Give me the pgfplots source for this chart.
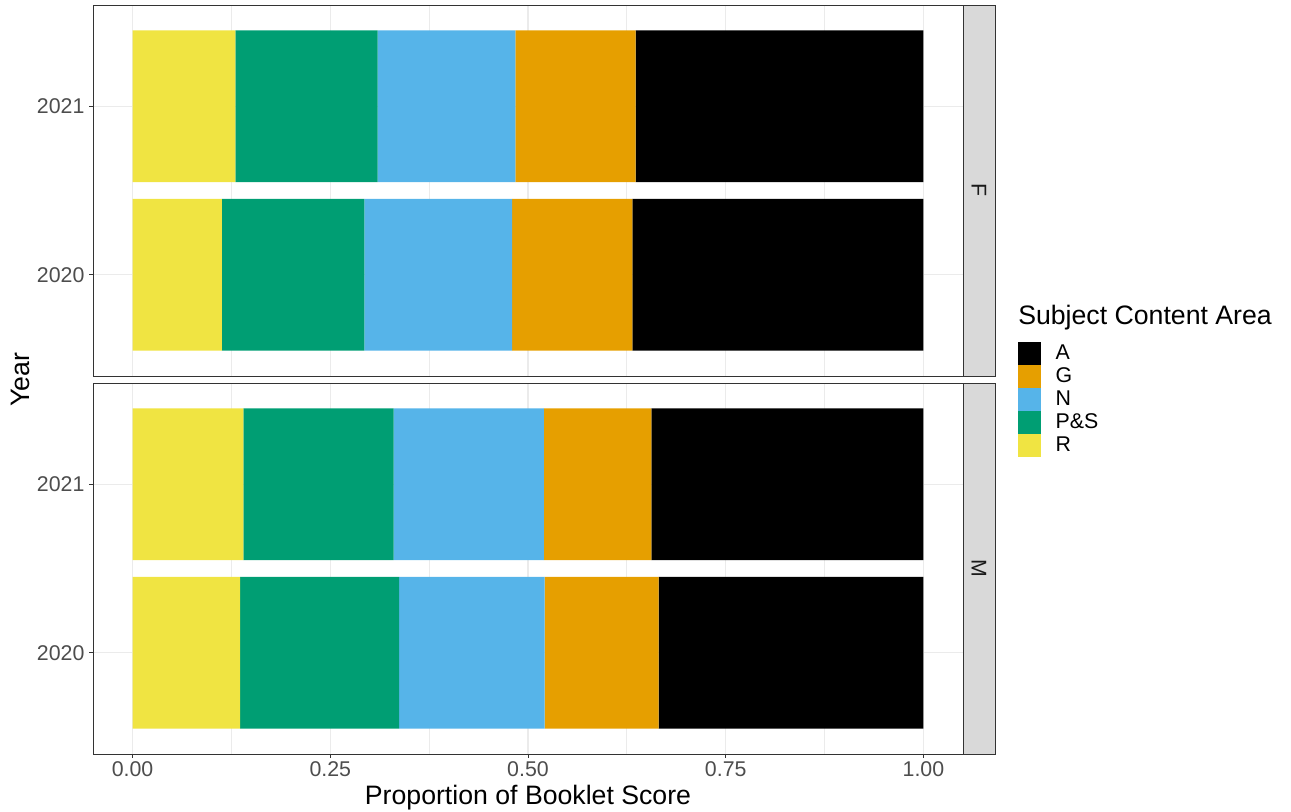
\documentclass[border=0pt]{standalone}
\usepackage{pgfplots}
\pgfplotsset{compat=1.18}
\usepackage{fontspec}
\setmainfont{Liberation Sans}
\definecolor{cA}{HTML}{000000}
\definecolor{cG}{HTML}{E69F00}
\definecolor{cN}{HTML}{56B4E9}
\definecolor{cPS}{HTML}{009E73}
\definecolor{cR}{HTML}{F0E442}
\definecolor{gridc}{HTML}{EBEBEB}
\definecolor{g20}{HTML}{333333}
\definecolor{g30}{HTML}{4D4D4D}
\definecolor{g85}{HTML}{D9D9D9}
\definecolor{g10}{HTML}{1A1A1A}
\pgfplotsset{
  sqleg/.style={legend image code/.code={\fill[##1] (0pt,-8.6pt) rectangle (17.2pt,8.6pt);}},
  panel/.style={
    scale only axis, width=652.5pt, height=278.25pt,
    xmin=-0.05, xmax=1.05, ymin=0.4, ymax=2.6,
    xbar stacked, bar width=0.9,
    axis line style={g20, line width=0.6pt},
    ytick={1,2}, yticklabels={2020,2021},
    xtick={0,0.25,0.5,0.75,1}, minor xtick={0.125,0.375,0.625,0.875},
    xmajorgrids, ymajorgrids, xminorgrids,
    major grid style={gridc, line width=1pt},
    minor grid style={gridc, line width=0.6pt},
    tick align=outside, major tick length=2.75pt, minor tick length=0pt,
    tick style={g20, line width=0.6pt},
    xtick pos=bottom, ytick pos=left,
    /pgf/number format/assume math mode=true,
    ticklabel style={font=\fontsize{16}{19}\selectfont, text=g30},
    yticklabel style={inner sep=3.5pt},
    xticklabel style={inner sep=3pt},
  },
}
\begin{document}
\begin{tikzpicture}
\path[use as bounding box] (0,0) rectangle (968.25pt,-609pt);
% Top panel (F)
\begin{axis}[panel, at={(69.75pt,-3.75pt)}, anchor=north west,
  xticklabels={}, xtick style={draw=none}]
\addplot[fill=cR, draw=none] coordinates {(0.113,1) (0.130,2)};
\addplot[fill=cPS, draw=none] coordinates {(0.180,1) (0.180,2)};
\addplot[fill=cN, draw=none] coordinates {(0.187,1) (0.174,2)};
\addplot[fill=cG, draw=none] coordinates {(0.152,1) (0.152,2)};
\addplot[fill=cA, draw=none] coordinates {(0.368,1) (0.364,2)};
\end{axis}
\draw[g20, fill=g85, line width=0.6pt] (722.25pt,-3.75pt) rectangle (746.25pt,-282pt);
\node[rotate=-90, text=g10, font=\fontsize{16}{19}\selectfont] at (734.25pt,-142.875pt) {F};
% Bottom panel (M)
\begin{axis}[panel, at={(69.75pt,-287.25pt)}, anchor=north west,
  xticklabels={0.00,0.25,0.50,0.75,1.00},
  reverse legend,
  legend style={at={(1.0632,1.1105)}, anchor=north west, draw=none, fill=none,
    inner sep=0pt, outer sep=0pt, row sep=0pt,
    font=\fontsize{16}{19}\selectfont,
    nodes={inner sep=0pt, outer sep=0pt},
    /tikz/every odd column/.append style={column sep=11pt}},
  legend cell align=left]
\addplot[fill=cR, draw=none, sqleg] coordinates {(0.136,1) (0.140,2)};
\addlegendentry{R}
\addplot[fill=cPS, draw=none, sqleg] coordinates {(0.201,1) (0.190,2)};
\addlegendentry{P\&S}
\addplot[fill=cN, draw=none, sqleg] coordinates {(0.184,1) (0.190,2)};
\addlegendentry{N}
\addplot[fill=cG, draw=none, sqleg] coordinates {(0.144,1) (0.136,2)};
\addlegendentry{G}
\addplot[fill=cA, draw=none, sqleg] coordinates {(0.335,1) (0.344,2)};
\addlegendentry{A}
\end{axis}
\draw[g20, fill=g85, line width=0.6pt] (722.25pt,-287.25pt) rectangle (746.25pt,-565.5pt);
\node[rotate=-90, text=g10, font=\fontsize{16}{19}\selectfont] at (734.25pt,-426.375pt) {M};
% Titles
\node[rotate=90, font=\fontsize{20}{24}\selectfont] at (15pt,-284.6pt) {Year};
\node[anchor=base, font=\fontsize{20}{24}\selectfont] at (396pt,-603pt) {Proportion of Booklet Score};
\node[anchor=base west, inner sep=0pt, font=\fontsize{20}{24}\selectfont] at (763.5pt,-243.75pt) {Subject Content Area};
\end{tikzpicture}
\end{document}
